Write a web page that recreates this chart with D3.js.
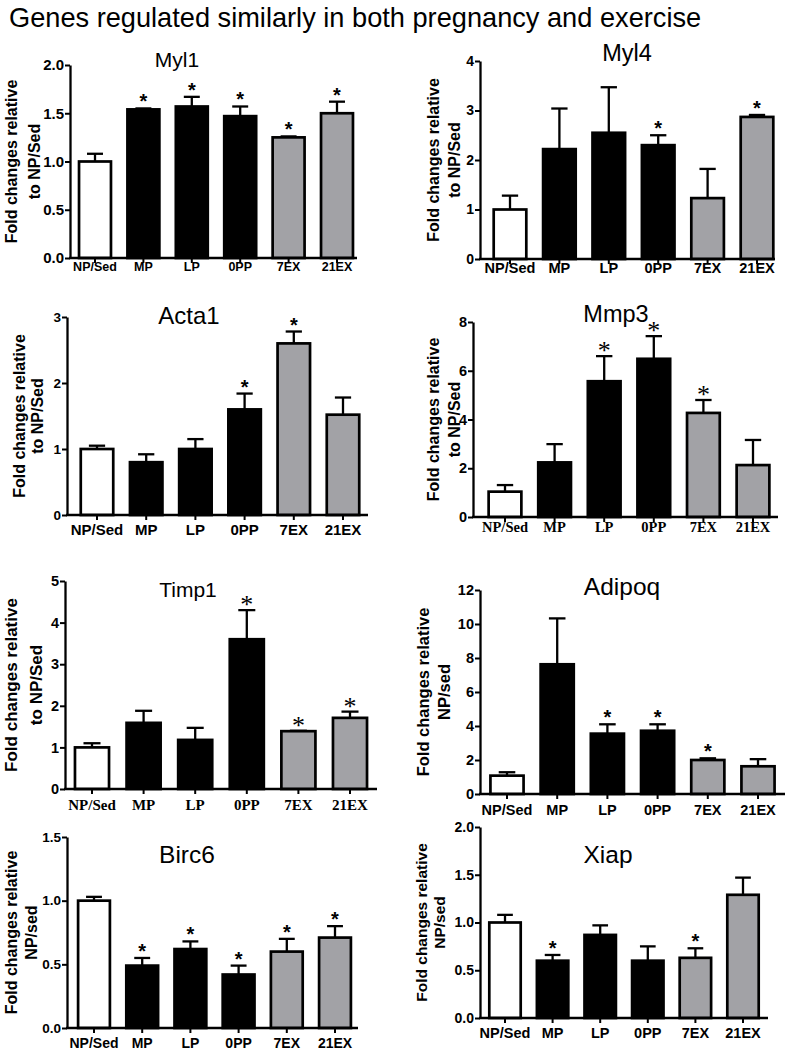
<!DOCTYPE html>
<html><head><meta charset="utf-8">
<script src="https://cdn.jsdelivr.net/npm/d3@7"></script>
<style>body{margin:0;background:#fff} svg{display:block}</style>
</head><body>
<svg id="c" width="791" height="1053"></svg>
<script>
// ---------------- DATA ----------------
const mainTitle = "Genes regulated similarly in both pregnancy and exercise";
const categories = ["NP/Sed", "MP", "LP", "0PP", "7EX", "21EX"];
const groupColors = ["#ffffff", "#000000", "#000000", "#000000", "#a2a2a6", "#a2a2a6"];

const myl1Mean = [1.00, 1.54, 1.57, 1.47, 1.25, 1.50];
const myl1Sem  = [0.08, 0.01, 0.10, 0.10, 0.01, 0.12];
const myl1Star = [0, 1, 1, 1, 1, 1];

const myl4Mean = [1.00, 2.22, 2.55, 2.30, 1.23, 2.87];
const myl4Sem  = [0.28, 0.82, 0.92, 0.20, 0.59, 0.04];
const myl4Star = [0, 0, 0, 1, 0, 1];

const acta1Mean = [1.00, 0.80, 1.00, 1.60, 2.60, 1.52];
const acta1Sem  = [0.05, 0.12, 0.15, 0.24, 0.18, 0.26];
const acta1Star = [0, 0, 0, 1, 1, 0];

const mmp3Mean = [1.04, 2.24, 5.57, 6.49, 4.27, 2.13];
const mmp3Sem  = [0.27, 0.75, 1.03, 0.93, 0.53, 1.03];
const mmp3Star = [0, 0, 1, 1, 1, 0];

const timp1Mean = [1.00, 1.59, 1.18, 3.60, 1.39, 1.71];
const timp1Sem  = [0.10, 0.29, 0.29, 0.70, 0.01, 0.15];
const timp1Star = [0, 0, 0, 1, 1, 1];

const adipoqMean = [1.08, 7.63, 3.55, 3.72, 2.00, 1.63];
const adipoqSem  = [0.20, 2.70, 0.55, 0.38, 0.10, 0.42];
const adipoqStar = [0, 0, 1, 1, 1, 0];

const birc6Mean = [1.00, 0.49, 0.62, 0.42, 0.60, 0.71];
const birc6Sem  = [0.03, 0.06, 0.06, 0.07, 0.10, 0.09];
const birc6Star = [0, 1, 1, 1, 1, 1];

const xiapMean = [1.00, 0.60, 0.87, 0.60, 0.63, 1.29];
const xiapSem  = [0.08, 0.06, 0.10, 0.15, 0.10, 0.18];
const xiapStar = [0, 1, 0, 0, 1, 0];

const ticksMyl1 = [0, 0.5, 1.0, 1.5, 2.0];
const ticksMyl4 = [0, 1, 2, 3, 4];
const ticksActa1 = [0, 1, 2, 3];
const ticksMmp3 = [0, 2, 4, 6, 8];
const ticksTimp1 = [0, 1, 2, 3, 4, 5];
const ticksAdipoq = [0, 2, 4, 6, 8, 10, 12];
const ticksBirc6 = [0, 0.5, 1.0, 1.5];
const ticksXiap = [0, 0.5, 1.0, 1.5, 2.0];

const labelSed = ["Fold changes relative", "to NP/Sed"];
const labelSed2 = ["Fold changes relative", "NP/sed"];

// ---------------- LAYOUT ----------------
const SANS = "'Liberation Sans', Arial, sans-serif";
const SERIF = "'Liberation Serif', 'Times New Roman', serif";

const panels = [
  {name:"Myl1", mean:myl1Mean, sem:myl1Sem, star:myl1Star, ticks:ticksMyl1, fmt:".1f", ylab:labelSed,
   ax:70, axEnd:357, y0:258, yTop:65, band:[70.8,361.2], tX:177, tY:67, tS:21, l1:17, l2:40, lS:16,
   tickS:15, xS:12.5, xOff:13, serifX:false, serifStar:false},
  {name:"Myl4", mean:myl4Mean, sem:myl4Sem, star:myl4Star, ticks:ticksMyl4, fmt:"d", ylab:labelSed,
   ax:480, axEnd:775, y0:259, yTop:61, band:[485.3,781.7], tX:627, tY:61, tS:23.5, l1:439, l2:460, lS:16,
   tickS:14, xS:14.5, xOff:14, serifX:false, serifStar:false},
  {name:"Acta1", mean:acta1Mean, sem:acta1Sem, star:acta1Star, ticks:ticksActa1, fmt:"d", ylab:labelSed,
   ax:67, axEnd:368, y0:515, yTop:317, band:[72.4,367.6], tX:189, tY:324, tS:24, l1:25, l2:43, lS:16,
   tickS:13.5, xS:15, xOff:20, serifX:false, serifStar:false},
  {name:"Mmp3", mean:mmp3Mean, sem:mmp3Sem, star:mmp3Star, ticks:ticksMmp3, fmt:"d", ylab:labelSed,
   ax:473, axEnd:778, y0:517, yTop:322, band:[480.2,777.8], tX:616, tY:322, tS:23.5, l1:439, l2:460, lS:16,
   tickS:14.5, xS:14.5, xOff:15, serifX:true, serifStar:true},
  {name:"Timp1", mean:timp1Mean, sem:timp1Sem, star:timp1Star, ticks:ticksTimp1, fmt:"d", ylab:labelSed,
   ax:65, axEnd:377, y0:789, yTop:581, band:[66.2,375.8], tX:188, tY:597, tS:21, l1:17, l2:42, lS:17,
   tickS:14.5, xS:15, xOff:21, serifX:true, serifStar:true},
  {name:"Adipoq", mean:adipoqMean, sem:adipoqSem, star:adipoqStar, ticks:ticksAdipoq, fmt:"d", ylab:labelSed2,
   ax:480, axEnd:785, y0:794, yTop:590, band:[481.9,783.1], tX:622, tY:595, tS:24.5, l1:429, l2:450, lS:16.5,
   tickS:14.5, xS:14.5, xOff:21, serifX:false, serifStar:false},
  {name:"Birc6", mean:birc6Mean, sem:birc6Sem, star:birc6Star, ticks:ticksBirc6, fmt:".1f", ylab:labelSed2,
   ax:67, axEnd:358, y0:1028, yTop:837, band:[69.9,359.1], tX:187, tY:863, tS:24.5, l1:17, l2:37, lS:16,
   tickS:13.5, xS:14, xOff:20, serifX:false, serifStar:false},
  {name:"Xiap", mean:xiapMean, sem:xiapSem, star:xiapStar, ticks:ticksXiap, fmt:".1f", ylab:labelSed2,
   ax:480, axEnd:768, y0:1018, yTop:827, band:[481.2,766.8], tX:608, tY:863, tS:24.5, l1:427, l2:445, lS:15.5,
   tickS:14, xS:14.5, xOff:20, serifX:false, serifStar:false}
];

const svg = d3.select("#c");

svg.append("text").attr("x", 9).attr("y", 27)
  .attr("font-family", SANS).attr("font-size", 27.2).attr("fill", "#000")
  .text(mainTitle);

panels.forEach(p => {
  const g = svg.append("g");
  const x = d3.scaleBand().domain(categories).range(p.band).paddingInner(0.34).paddingOuter(0.17);
  const y = d3.scaleLinear().domain([0, p.ticks[p.ticks.length - 1]]).range([p.y0, p.yTop]);
  const data = categories.map((c, i) => ({c, i, m: p.mean[i], s: p.sem[i], st: p.star[i]}));

  // error bars (drawn first so the bar covers the lower part)
  const capW = x.bandwidth() * 0.5;
  const eb = g.append("g").attr("stroke", "#000").attr("stroke-width", 2.3);
  eb.selectAll("line.v").data(data).join("line").attr("class", "v")
    .attr("x1", d => x(d.c) + x.bandwidth() / 2).attr("x2", d => x(d.c) + x.bandwidth() / 2)
    .attr("y1", d => y(d.m)).attr("y2", d => y(d.m + d.s));
  eb.selectAll("line.h").data(data).join("line").attr("class", "h")
    .attr("x1", d => x(d.c) + x.bandwidth() / 2 - capW / 2).attr("x2", d => x(d.c) + x.bandwidth() / 2 + capW / 2)
    .attr("y1", d => y(d.m + d.s)).attr("y2", d => y(d.m + d.s));

  // bars
  g.selectAll("rect").data(data).join("rect")
    .attr("x", d => x(d.c)).attr("width", x.bandwidth())
    .attr("y", d => y(d.m)).attr("height", d => y(0) - y(d.m))
    .attr("fill", d => groupColors[d.i]).attr("stroke", "#000").attr("stroke-width", 2.7);

  // stars
  g.selectAll("text.star").data(data.filter(d => d.st)).join("text").attr("class", "star")
    .attr("x", d => x(d.c) + x.bandwidth() / 2)
    .attr("y", d => y(d.m + d.s) + (p.serifStar ? 3 : 0))
    .attr("text-anchor", "middle")
    .attr("fill", "#000")
    .attr("font-family", p.serifStar ? SERIF : SANS)
    .attr("font-weight", p.serifStar ? "normal" : "bold")
    .attr("font-size", p.serifStar ? 26 : 20)
    .text("*");

  // y axis
  const yAxis = d3.axisLeft(y).tickValues(p.ticks).tickFormat(d3.format(p.fmt)).tickSize(5).tickSizeOuter(0).tickPadding(1);
  const ya = g.append("g").attr("transform", `translate(${p.ax},0)`).call(yAxis);
  ya.select(".domain").attr("stroke-width", 2.3);
  ya.selectAll(".tick line").attr("stroke-width", 2);
  ya.selectAll(".tick text").attr("font-family", SANS).attr("font-weight", "bold").attr("font-size", p.tickS).attr("fill", "#000");

  // x axis line + ticks
  g.append("line").attr("x1", p.ax - 1).attr("x2", p.axEnd).attr("y1", p.y0).attr("y2", p.y0)
    .attr("stroke", "#000").attr("stroke-width", 2.3);
  g.selectAll("line.xt").data(categories).join("line").attr("class", "xt")
    .attr("x1", d => x(d) + x.bandwidth() / 2).attr("x2", d => x(d) + x.bandwidth() / 2)
    .attr("y1", p.y0).attr("y2", p.y0 + 5).attr("stroke", "#000").attr("stroke-width", 2);
  g.selectAll("text.xl").data(categories).join("text").attr("class", "xl")
    .attr("x", d => x(d) + x.bandwidth() / 2).attr("y", p.y0 + p.xOff)
    .attr("text-anchor", "middle").attr("fill", "#000")
    .attr("font-family", p.serifX ? SERIF : SANS).attr("font-weight", "bold").attr("font-size", p.xS)
    .text(d => d);

  // title
  g.append("text").attr("x", p.tX).attr("y", p.tY).attr("text-anchor", "middle").attr("fill", "#000")
    .attr("font-family", SANS).attr("font-size", p.tS).text(p.name);

  // y label
  const cy = (p.y0 + p.yTop) / 2;
  [p.l1, p.l2].forEach((lx, k) => {
    g.append("text").attr("transform", `translate(${lx},${cy}) rotate(-90)`)
      .attr("text-anchor", "middle").attr("font-family", SANS).attr("font-weight", "bold").attr("fill", "#000")
      .attr("font-size", p.lS).text(p.ylab[k]);
  });
});
</script>
</body></html>
